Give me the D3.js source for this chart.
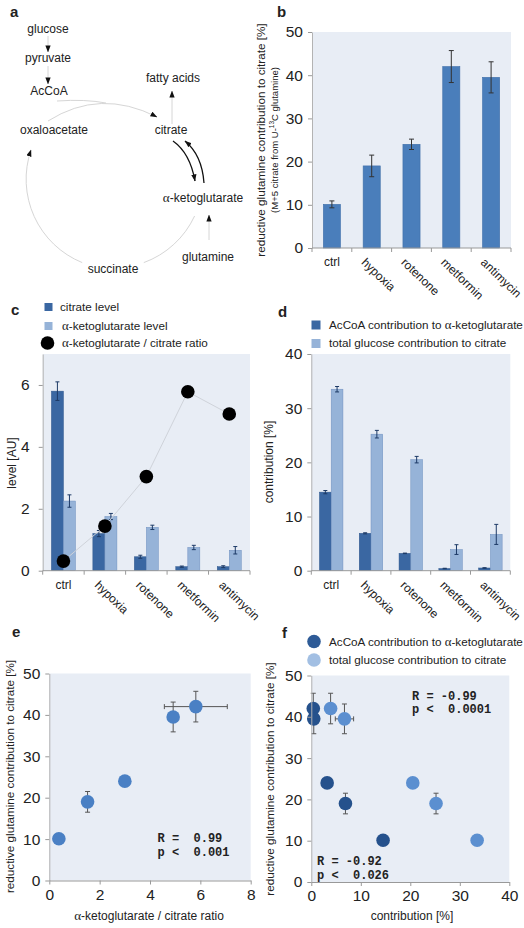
<!DOCTYPE html>
<html><head><meta charset="utf-8">
<script src="https://cdn.jsdelivr.net/npm/d3@7"></script>
<style>body{margin:0;background:#fff} svg{display:block;font-family:"Liberation Sans",Arial,sans-serif}</style>
</head><body><svg id="fig" width="524" height="928"></svg>
<script>
// ---------------- data ----------------
const categories = ["ctrl","hypoxia","rotenone","metformin","antimycin"];
const glnContribution = [10.1, 19.0, 24.0, 42.0, 39.5];
const glnErr = [0.8, 2.5, 1.2, 3.7, 3.6];
const citrateLevel = [5.8, 1.2, 0.45, 0.13, 0.13];
const citrateErr = [0.3, 0.1, 0.05, 0.02, 0.03];
const akgLevel = [2.25, 1.75, 1.4, 0.75, 0.66];
const akgErr = [0.2, 0.1, 0.07, 0.07, 0.12];
const ratioLevel = [0.31, 1.44, 3.04, 5.78, 5.06];
const ratioX = [0.38, 1.52, 3.0, 5.82, 4.92];
const ratioXErr = [0.05, 0.1, 0.1, 1.25, 0.2];
const accoaContribution = [14.5, 6.9, 3.2, 0.4, 0.5];
const accoaErr = [0.3, 0.1, 0.05, 0.05, 0.05];
const glucoseContribution = [33.5, 25.2, 20.5, 3.9, 6.7];
const glucoseErr = [0.5, 0.7, 0.6, 0.9, 1.85];
const ticksB = [0,10,20,30,40,50];
const ticksC = [0,2,4,6];
const ticksD = [0,10,20,30,40];
const ticksEx = [0,2,4,6,8];
const ticksFx = [0,10,20,30,40];
const statsE = ["R =  0.99","p <  0.001"];
const statsF1 = ["R = -0.99","p <  0.0001"];
const statsF2 = ["R = -0.92","p <  0.026"];

// ---------------- styles ----------------
const BG = "#e8edf5", TXT = "#222";
const BLUE = "#4a7ebb", DARK = "#3a67a2", LIGHT = "#96b3d8";
const PDARK = "#25518c", PLIGHT = "#5b8fd0", PE = "#4a80c4";
const svg = d3.select("#fig");

function richText(sel, str) {
  str.split(/(α)/).forEach(p => {
    if (!p) return;
    const t = sel.append("tspan").text(p);
    if (p === "α") t.attr("font-family", "'Liberation Serif','DejaVu Serif',serif").attr("font-size", "1.1em");
  });
  return sel;
}
function label(x, y, str, opts = {}) {
  const t = svg.append("text").attr("x", x).attr("y", y)
    .attr("font-size", opts.size || 11.5).attr("fill", TXT)
    .attr("text-anchor", opts.anchor || "start");
  if (opts.weight) t.attr("font-weight", opts.weight);
  if (opts.family) t.attr("font-family", opts.family).attr("xml:space", "preserve").style("white-space", "pre");
  if (opts.rotate) t.attr("transform", `rotate(${opts.rotate},${x},${y})`);
  return richText(t, str);
}
function plotBg(x0, x1, y0, y1) {
  svg.append("rect").attr("x", x0).attr("y", y0).attr("width", x1 - x0).attr("height", y1 - y0).attr("fill", BG);
}
function yAxis(y, x0, ticks, pad) {
  const g = svg.append("g").attr("transform", `translate(${x0},0)`)
    .call(d3.axisLeft(y).tickValues(ticks).tickSize(4).tickSizeOuter(0).tickPadding(pad).tickFormat(d3.format("d")));
  g.select(".domain").attr("stroke", "#b3b3b3");
  g.selectAll(".tick line").attr("stroke", "#999");
  g.selectAll(".tick text").attr("font-size", 15.5).attr("fill", TXT).attr("font-family", "'Liberation Sans',Arial,sans-serif");
}
function xAxisLinear(x, y0, ticks) {
  const g = svg.append("g").attr("transform", `translate(0,${y0})`)
    .call(d3.axisBottom(x).tickValues(ticks).tickSize(4).tickSizeOuter(0).tickPadding(4).tickFormat(d3.format("d")));
  g.select(".domain").attr("stroke", "#999");
  g.selectAll(".tick line").attr("stroke", "#999");
  g.selectAll(".tick text").attr("font-size", 15.5).attr("fill", TXT).attr("font-family", "'Liberation Sans',Arial,sans-serif");
}
function catAxis(x, y0) {
  const [a, b] = x.range();
  svg.append("line").attr("x1", a).attr("x2", b).attr("y1", y0).attr("y2", y0).attr("stroke", "#999");
  d3.range(categories.length + 1).forEach(i => {
    const xx = a + i * x.step();
    svg.append("line").attr("x1", xx).attr("x2", xx).attr("y1", y0).attr("y2", y0 + 4).attr("stroke", "#999");
  });
  categories.forEach((c, i) => {
    const cx = x(c) + x.bandwidth() / 2;
    if (i === 0) {
      svg.append("text").attr("x", cx).attr("y", y0 + 18).attr("text-anchor", "middle")
        .attr("font-size", 12).attr("fill", TXT).text(c);
    } else {
      svg.append("text").attr("transform", `translate(${cx - 5},${y0 + 9}) rotate(44)`)
        .attr("dy", "0.72em").attr("font-size", 12).attr("fill", TXT).text(c);
    }
  });
}
function vErr(x, yLo, yHi, cap = 2.5, col = "#333") {
  svg.append("line").attr("x1", x).attr("x2", x).attr("y1", yLo).attr("y2", yHi).attr("stroke", col).attr("stroke-width", 1);
  [yLo, yHi].forEach(yy => svg.append("line").attr("x1", x - cap).attr("x2", x + cap).attr("y1", yy).attr("y2", yy).attr("stroke", col));
}
function hErr(y, xLo, xHi, cap = 2.5, col = "#555") {
  svg.append("line").attr("x1", xLo).attr("x2", xHi).attr("y1", y).attr("y2", y).attr("stroke", col).attr("stroke-width", 1);
  [xLo, xHi].forEach(xx => svg.append("line").attr("x1", xx).attr("x2", xx).attr("y1", y - cap).attr("y2", y + cap).attr("stroke", col));
}

// ---------------- panel a ----------------
const defs = svg.append("defs");
defs.append("marker").attr("id", "arr").attr("viewBox", "0 0 8 6").attr("refX", 7.5).attr("refY", 3)
  .attr("markerWidth", 7).attr("markerHeight", 5.5).attr("markerUnits", "userSpaceOnUse").attr("orient", "auto")
  .append("path").attr("d", "M0,0 L8,3 L0,6 Z").attr("fill", "#111");
label(10, 17, "a", { size: 15, weight: "bold" });
const nodes = [
  ["glucose", 48, 33], ["pyruvate", 48, 62], ["AcCoA", 49, 95], ["fatty acids", 173, 82],
  ["oxaloacetate", 54, 134], ["citrate", 171, 134], ["α-ketoglutarate", 203, 202],
  ["glutamine", 208, 261], ["succinate", 113, 273]
];
nodes.forEach(n => label(n[1], n[2], n[0], { size: 12, anchor: "middle" }));
const grey = "#d6d6d6";
const pathsA = [
  { d: "M48,36 L48,52", c: grey, m: true },
  { d: "M48,66 L48,84", c: grey, m: true },
  { d: "M172,124 L172,91", c: grey, m: true },
  { d: "M209,240 L209,215", c: grey, m: true },
  { d: "M48,121 Q100,88 157,117", c: grey, m: true },
  { d: "M57,101 Q85,99 106,103", c: grey, m: false },
  { d: "M194.6,216 A90,90 0 0 1 143.8,262.6", c: grey, m: false },
  { d: "M82.2,262.6 A90,90 0 0 1 31,150", c: grey, m: true },
  { d: "M173,141 Q190,153 195,181", c: "#111", m: true, w: 1.3 },
  { d: "M204,183 Q202,155 185,141", c: "#111", m: true, w: 1.3 }
];
pathsA.forEach(p => {
  const e = svg.append("path").attr("d", p.d).attr("fill", "none").attr("stroke", p.c).attr("stroke-width", p.w || 1);
  if (p.m) e.attr("marker-end", "url(#arr)");
});

// ---------------- panel b ----------------
{
  const x = d3.scaleBand().domain(categories).range([312, 511]);
  const y = d3.scaleLinear().domain([0, 50]).range([248, 32]);
  plotBg(312, 511, 32, 248);
  label(277, 17, "b", { size: 15, weight: "bold" });
  const bw = x.bandwidth() * 0.43;
  categories.forEach((c, i) => {
    const cx = x(c) + x.bandwidth() / 2;
    svg.append("rect").attr("x", cx - bw / 2).attr("y", y(glnContribution[i])).attr("width", bw)
      .attr("height", y(0) - y(glnContribution[i])).attr("fill", BLUE).attr("stroke", "#3f6fa9").attr("stroke-width", 0.6);
    vErr(cx, y(glnContribution[i] - glnErr[i]), y(glnContribution[i] + glnErr[i]));
  });
  yAxis(y, 312, ticksB, 5);
  catAxis(x, 248);
  label(265, 140, "reductive glutamine contribution to citrate [%]", { size: 11.7, anchor: "middle", rotate: -90 });
  const t = svg.append("text").attr("x", 278).attr("y", 140).attr("text-anchor", "middle").attr("font-size", 9.5)
    .attr("fill", TXT).attr("transform", "rotate(-90,278,140)");
  t.append("tspan").text("(M+5 citrate from U-");
  t.append("tspan").text("13").attr("font-size", 6.5).attr("dy", -4);
  t.append("tspan").text("C glutamine)").attr("dy", 4);
}

// ---------------- panel c ----------------
{
  const x = d3.scaleBand().domain(categories).range([42.7, 250]);
  const y = d3.scaleLinear().domain([0, 7]).range([570.7, 354]);
  plotBg(42.7, 250, 354, 570.7);
  label(11, 315, "c", { size: 15, weight: "bold" });
  const bw = x.bandwidth() * 0.29;
  categories.forEach((c, i) => {
    const cx = x(c) + x.bandwidth() / 2;
    svg.append("rect").attr("x", cx - bw).attr("y", y(citrateLevel[i])).attr("width", bw)
      .attr("height", y(0) - y(citrateLevel[i])).attr("fill", DARK).attr("stroke", "#2f578c").attr("stroke-width", 0.5);
    svg.append("rect").attr("x", cx).attr("y", y(akgLevel[i])).attr("width", bw)
      .attr("height", y(0) - y(akgLevel[i])).attr("fill", LIGHT).attr("stroke", "#6f8fbf").attr("stroke-width", 0.5);
    vErr(cx - bw / 2, y(citrateLevel[i] - citrateErr[i]), y(citrateLevel[i] + citrateErr[i]), 2, "#1d3a66");
    vErr(cx + bw / 2, y(akgLevel[i] - akgErr[i]), y(akgLevel[i] + akgErr[i]), 2, "#1d3a66");
  });
  const line = d3.line().x((d, i) => x(categories[i]) + x.bandwidth() / 2).y(d => y(d));
  svg.append("path").attr("d", line(ratioLevel)).attr("fill", "none").attr("stroke", "#cfd3da").attr("stroke-width", 1);
  ratioLevel.forEach((v, i) => svg.append("circle").attr("cx", x(categories[i]) + x.bandwidth() / 2).attr("cy", y(v)).attr("r", 6.8).attr("fill", "#000"));
  yAxis(y, 42.7, ticksC, 9);
  catAxis(x, 570.7);
  label(16, 463, "level [AU]", { size: 12, anchor: "middle", rotate: -90 });
  // legend
  svg.append("rect").attr("x", 44.5).attr("y", 303).attr("width", 8).attr("height", 8).attr("fill", DARK);
  label(60, 310.5, "citrate level", { size: 11.7 });
  svg.append("rect").attr("x", 44.5).attr("y", 322).attr("width", 8).attr("height", 8).attr("fill", LIGHT);
  label(62, 329.5, "α-ketoglutarate level", { size: 11.7 });
  svg.append("circle").attr("cx", 47.5).attr("cy", 343).attr("r", 6.8).attr("fill", "#000");
  label(62, 347, "α-ketoglutarate / citrate ratio", { size: 11.7 });
}

// ---------------- panel d ----------------
{
  const x = d3.scaleBand().domain(categories).range([311.3, 510.3]);
  const y = d3.scaleLinear().domain([0, 40]).range([570.7, 354]);
  plotBg(311.3, 510.3, 354, 570.7);
  label(278, 317, "d", { size: 15, weight: "bold" });
  const bw = x.bandwidth() * 0.295;
  categories.forEach((c, i) => {
    const cx = x(c) + x.bandwidth() / 2;
    svg.append("rect").attr("x", cx - bw).attr("y", y(accoaContribution[i])).attr("width", bw)
      .attr("height", y(0) - y(accoaContribution[i])).attr("fill", DARK).attr("stroke", "#2f578c").attr("stroke-width", 0.5);
    svg.append("rect").attr("x", cx).attr("y", y(glucoseContribution[i])).attr("width", bw)
      .attr("height", y(0) - y(glucoseContribution[i])).attr("fill", LIGHT).attr("stroke", "#6f8fbf").attr("stroke-width", 0.5);
    vErr(cx - bw / 2, y(accoaContribution[i] - accoaErr[i]), y(accoaContribution[i] + accoaErr[i]), 2, "#1d3a66");
    vErr(cx + bw / 2, y(glucoseContribution[i] - glucoseErr[i]), y(glucoseContribution[i] + glucoseErr[i]), 2, "#1d3a66");
  });
  yAxis(y, 311.3, ticksD, 5);
  catAxis(x, 570.7);
  label(273, 462, "contribution [%]", { size: 12, anchor: "middle", rotate: -90 });
  svg.append("rect").attr("x", 311.5).attr("y", 320.5).attr("width", 9).attr("height", 9).attr("fill", DARK);
  label(329, 328.5, "AcCoA contribution to α-ketoglutarate", { size: 11.7 });
  svg.append("rect").attr("x", 311.5).attr("y", 339).attr("width", 9).attr("height", 9).attr("fill", LIGHT);
  label(329, 346.5, "total glucose contribution to citrate", { size: 11.7 });
}

// ---------------- panel e ----------------
{
  const x = d3.scaleLinear().domain([0, 8]).range([49.3, 250.7]);
  const y = d3.scaleLinear().domain([0, 50]).range([880.5, 673.5]);
  plotBg(49.3, 250.7, 673.5, 880.5);
  label(12, 637, "e", { size: 15, weight: "bold" });
  ratioX.forEach((v, i) => {
    hErr(y(glnContribution[i]), x(v - ratioXErr[i]), x(v + ratioXErr[i]));
    vErr(x(v), y(glnContribution[i] - glnErr[i]), y(glnContribution[i] + glnErr[i]), 2.5, "#555");
  });
  ratioX.forEach((v, i) => svg.append("circle").attr("cx", x(v)).attr("cy", y(glnContribution[i])).attr("r", 6.8).attr("fill", PE));
  yAxis(y, 49.3, [0,10,20,30,40,50], 5);
  xAxisLinear(x, 880.5, ticksEx);
  label(14, 776.5, "reductive glutamine contribution to citrate [%]", { size: 11.7, anchor: "middle", rotate: -90 });
  label(149, 920, "α-ketoglutarate / citrate ratio", { size: 12, anchor: "middle" });
  statsE.forEach((s, i) => label(157.5, 842 + i * 14, s, { size: 12, family: "'Liberation Mono','Courier New',monospace", weight: "bold" }));
}

// ---------------- panel f ----------------
{
  const x = d3.scaleLinear().domain([0, 40]).range([311.3, 509.3]);
  const y = d3.scaleLinear().domain([0, 50]).range([882, 675.5]);
  plotBg(311.3, 509.3, 675.5, 882);
  label(282, 638, "f", { size: 15, weight: "bold" });
  [[glucoseContribution, glucoseErr, PLIGHT], [accoaContribution, accoaErr, PDARK]].forEach(([xs, xe]) => {
    xs.forEach((v, i) => {
      hErr(y(glnContribution[i]), x(v - xe[i]), x(v + xe[i]));
      vErr(x(v), y(glnContribution[i] - glnErr[i]), y(glnContribution[i] + glnErr[i]), 2.5, "#555");
    });
  });
  [[glucoseContribution, PLIGHT], [accoaContribution, PDARK]].forEach(([xs, col]) => {
    xs.forEach((v, i) => svg.append("circle").attr("cx", x(v)).attr("cy", y(glnContribution[i])).attr("r", 6.8).attr("fill", col));
  });
  yAxis(y, 311.3, [0,10,20,30,40,50], 5);
  xAxisLinear(x, 882, ticksFx);
  label(274, 779, "reductive glutamine contribution to citrate [%]", { size: 11.7, anchor: "middle", rotate: -90 });
  label(412, 920, "contribution [%]", { size: 12, anchor: "middle" });
  statsF1.forEach((s, i) => label(412, 699.5 + i * 13.5, s, { size: 12, family: "'Liberation Mono','Courier New',monospace", weight: "bold" }));
  statsF2.forEach((s, i) => label(317, 865 + i * 13.5, s, { size: 12, family: "'Liberation Mono','Courier New',monospace", weight: "bold" }));
  svg.append("circle").attr("cx", 314).attr("cy", 641.5).attr("r", 6.8).attr("fill", "#2e5b97");
  label(329, 645.5, "AcCoA contribution to α-ketoglutarate", { size: 11.7 });
  svg.append("circle").attr("cx", 314).attr("cy", 660).attr("r", 6.8).attr("fill", "#a2bfe3");
  label(329, 664, "total glucose contribution to citrate", { size: 11.7 });
}
</script></body></html>
